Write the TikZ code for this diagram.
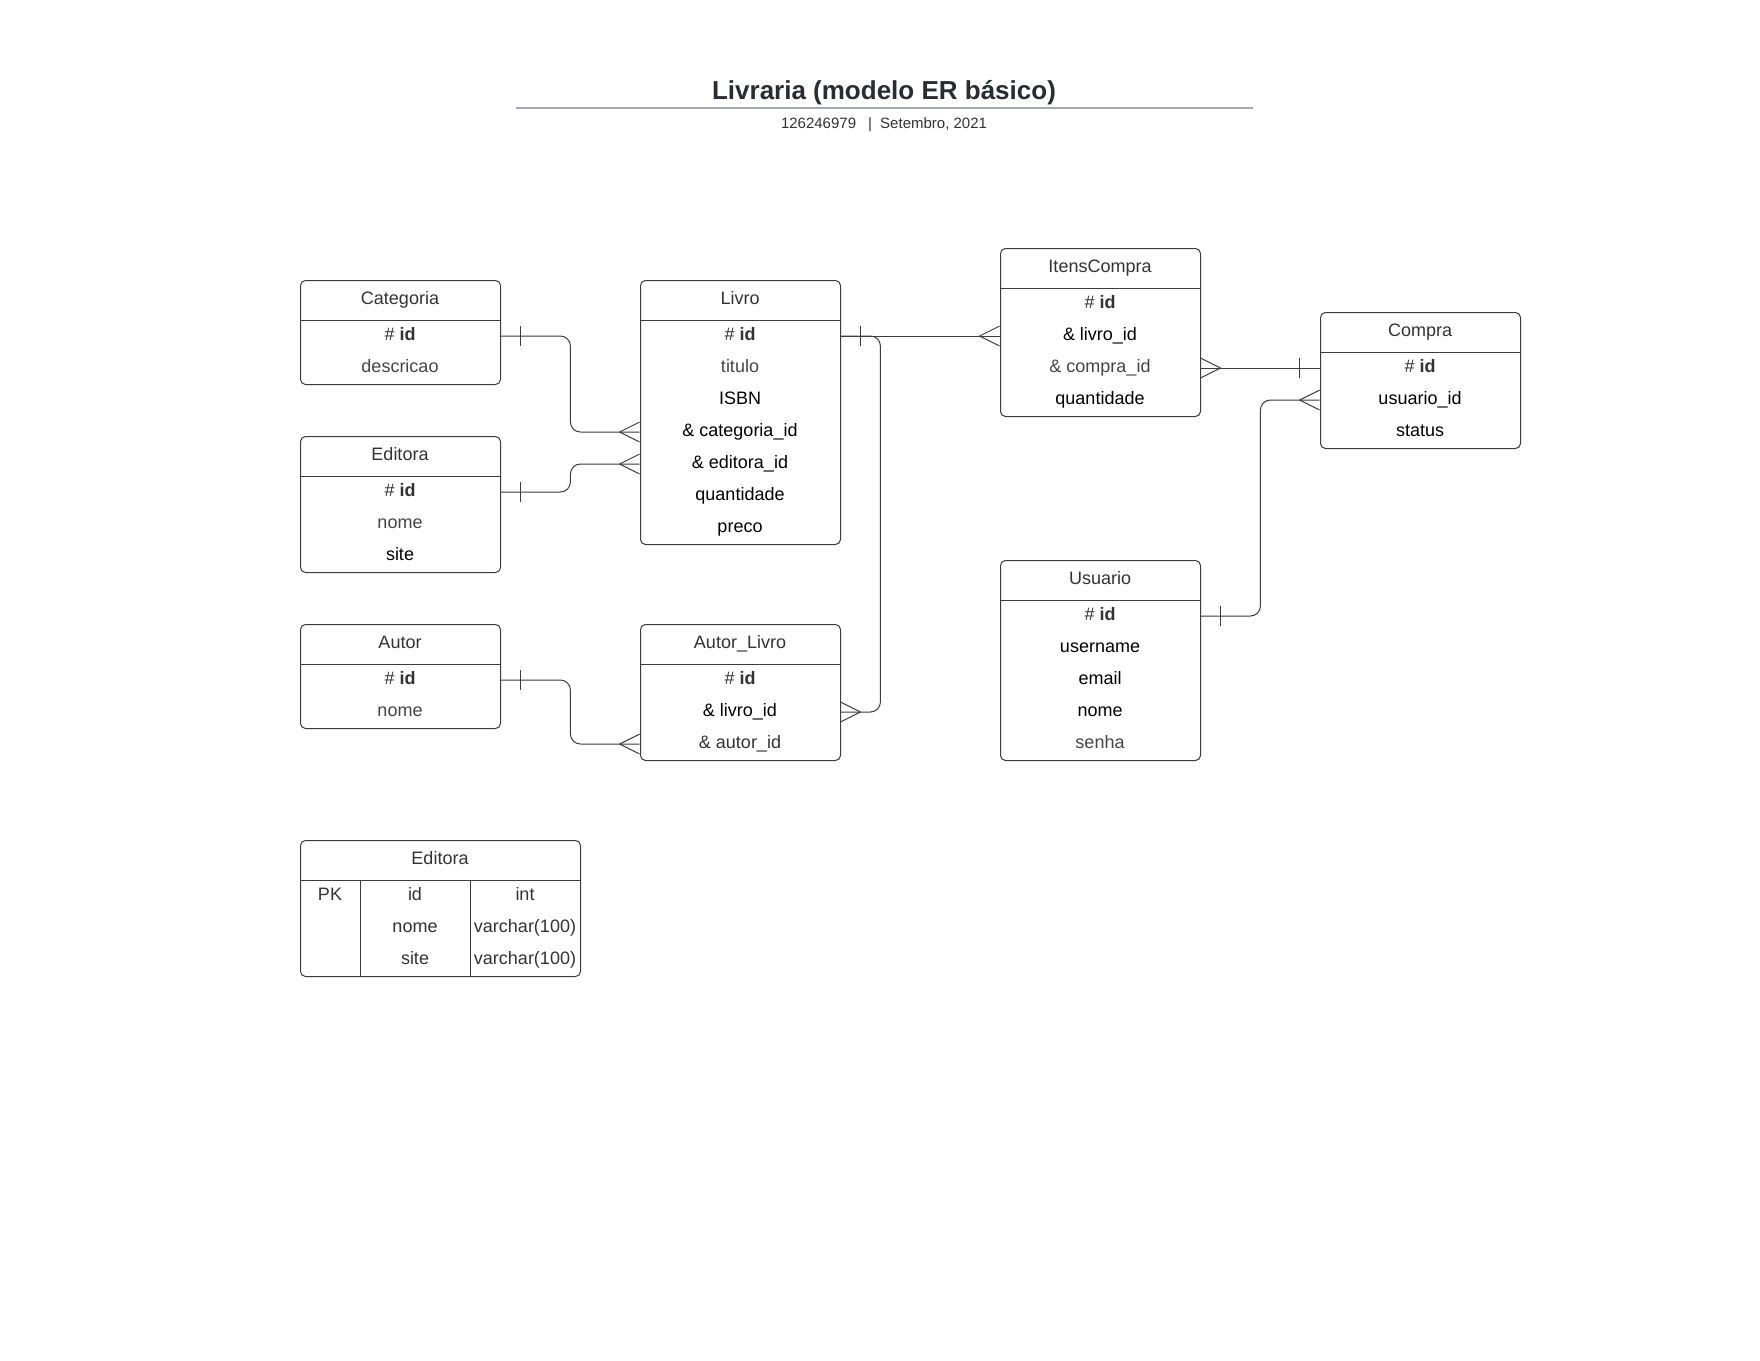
\documentclass[tikz,border=0pt]{standalone}
\usepackage{fontspec}
\setmainfont{Liberation Sans}
\usetikzlibrary{calc}
\definecolor{ln}{HTML}{3C3C3C}
\definecolor{hdrc}{HTML}{333333}
\definecolor{grc}{HTML}{454545}
\definecolor{titlec}{HTML}{282C33}
\definecolor{rulec}{HTML}{A3A9B4}
\newcommand\erOne[2]{\draw[conn] ($(#1)+(#2,-10)$) -- ($(#1)+(#2,10)$);}
\newcommand\erMany[2]{\draw[conn] ($(#1)+(0,-10)$) -- ($(#1)+(#2,0)$) -- ($(#1)+(0,10)$);}
\newcommand\erBox[4]{%
  \node[frame, minimum height=#3] (#1) at (#2) {};
  \node[hdr] (#1-h) at ($(#2)+(100,20)$) {#4};
  \draw[frameline] ($(#2)+(0,40)$) -- ++(200,0);
}
\begin{document}
\begin{tikzpicture}[x=0.5pt,y=-0.5pt,
  frame/.style={draw=ln, line width=0.5pt, rounded corners=2.5pt, fill=white,
    minimum width=100pt, inner sep=0pt, anchor=north west},
  frameline/.style={draw=ln, line width=0.5pt},
  hdr/.style={inner sep=0pt, text=hdrc, font=\fontsize{9}{11}\selectfont,
    text height=6.6pt, text depth=1.9pt},
  row/.style={minimum width=100pt, minimum height=16pt, inner sep=0pt,
    font=\fontsize{9}{11}\selectfont, text height=6.6pt, text depth=1.9pt},
  dk/.style={text=hdrc},
  gr/.style={text=grc},
  bk/.style={text=black},
  conn/.style={draw=ln, line width=0.5pt},
  cell/.style={inner sep=0pt, text=hdrc, font=\fontsize{9}{11}\selectfont,
    text height=6.6pt, text depth=1.9pt}
]
\fill[white] (0,0) rectangle (1760,1360);
\useasboundingbox (0,0) rectangle (1760,1360);

% title block
\node[font=\bfseries\fontsize{13}{15}\selectfont, text=titlec] (title) at (884,92.5) {Livraria (modelo ER básico)};
\coordinate (rl) at (516,108);
\coordinate (rr) at (1253,108);
\draw[draw=rulec, line width=0.6pt] (rl) -- (rr);
\node[font=\fontsize{7.5}{9}\selectfont, text=hdrc] (sub) at (884,124.7) {126246979\hspace{0.8em}|\hspace{0.55em}Setembro, 2021};

% Categoria
\erBox{cat}{300,280}{52pt}{Categoria}
\node[row,dk] (cat-id) at (400,336) {\# \textbf{id}};
\node[row,gr] (cat-desc) at (400,368) {descricao};

% Editora
\erBox{ed}{300,436}{68pt}{Editora}
\node[row,dk] (ed-id) at (400,492) {\# \textbf{id}};
\node[row,gr] (ed-nome) at (400,524) {nome};
\node[row,bk] (ed-site) at (400,556) {site};

% Autor
\erBox{au}{300,624}{52pt}{Autor}
\node[row,dk] (au-id) at (400,680) {\# \textbf{id}};
\node[row,gr] (au-nome) at (400,712) {nome};

% Livro
\erBox{liv}{640,280}{132pt}{Livro}
\node[row,dk] (liv-id) at (740,336) {\# \textbf{id}};
\node[row,gr] (liv-tit) at (740,368) {titulo};
\node[row,bk] (liv-isbn) at (740,400) {ISBN};
\node[row,bk] (liv-cat) at (740,432) {\& categoria\_id};
\node[row,bk] (liv-ed) at (740,464) {\& editora\_id};
\node[row,bk] (liv-qt) at (740,496) {quantidade};
\node[row,bk] (liv-pr) at (740,528) {preco};

% Autor_Livro
\erBox{al}{640,624}{68pt}{Autor\_Livro}
\node[row,dk] (al-id) at (740,680) {\# \textbf{id}};
\node[row,bk] (al-liv) at (740,712) {\& livro\_id};
\node[row,dk] (al-aut) at (740,744) {\& autor\_id};

% ItensCompra
\erBox{ic}{1000,248}{84pt}{ItensCompra}
\node[row,dk] (ic-id) at (1100,304) {\# \textbf{id}};
\node[row,bk] (ic-liv) at (1100,336) {\& livro\_id};
\node[row,gr] (ic-comp) at (1100,368) {\& compra\_id};
\node[row,bk] (ic-qt) at (1100,400) {quantidade};

% Compra
\erBox{co}{1320,312}{68pt}{Compra}
\node[row,dk] (co-id) at (1420,368) {\# \textbf{id}};
\node[row,bk] (co-uid) at (1420,400) {usuario\_id};
\node[row,bk] (co-st) at (1420,432) {status};

% Usuario
\erBox{us}{1000,560}{100pt}{Usuario}
\node[row,dk] (us-id) at (1100,616) {\# \textbf{id}};
\node[row,bk] (us-user) at (1100,648) {username};
\node[row,bk] (us-mail) at (1100,680) {email};
\node[row,bk] (us-nome) at (1100,712) {nome};
\node[row,gr] (us-senha) at (1100,744) {senha};

% Editora table
\node[frame, minimum width=140pt, minimum height=68pt] (tab) at (300,840) {};
\node[hdr] (tab-h) at (440,860) {Editora};
\draw[frameline] (300,880) -- (580,880);
\draw[frameline] (360,880) -- (360,976);
\draw[frameline] (470,880) -- (470,976);
\node[cell] (t-pk) at (330,896) {PK};
\node[cell] (t-id) at (415,896) {id};
\node[cell] (t-nome) at (415,928) {nome};
\node[cell] (t-site) at (415,960) {site};
\node[cell] (t-int) at (525,896) {int};
\node[cell] (t-vc1) at (525,928) {varchar(100)};
\node[cell] (t-vc2) at (525,960) {varchar(100)};

% connectors
\draw[conn, rounded corners=5pt] (cat-id.east) -- ++(70,0) |- (liv-cat.west);
\erOne{cat-id.east}{20}
\erMany{liv-cat.west}{-20}

\draw[conn, rounded corners=5pt] (ed-id.east) -- ++(70,0) |- (liv-ed.west);
\erOne{ed-id.east}{20}
\erMany{liv-ed.west}{-20}

\draw[conn, rounded corners=5pt] (au-id.east) -- ++(70,0) |- (al-aut.west);
\erOne{au-id.east}{20}
\erMany{al-aut.west}{-20}

\draw[conn] (liv-id.east) -- (ic-liv.west);
\erOne{liv-id.east}{20}
\erMany{ic-liv.west}{-20}

\draw[conn, rounded corners=5pt] (liv-id.east) -- ++(40,0) |- (al-liv.east);
\erMany{al-liv.east}{20}

\draw[conn] (ic-comp.east) -- (co-id.west);
\erMany{ic-comp.east}{20}
\erOne{co-id.west}{-20}

\draw[conn, rounded corners=5pt] (us-id.east) -- ++(60,0) |- (co-uid.west);
\erOne{us-id.east}{20}
\erMany{co-uid.west}{-20}
\end{tikzpicture}
\end{document}
